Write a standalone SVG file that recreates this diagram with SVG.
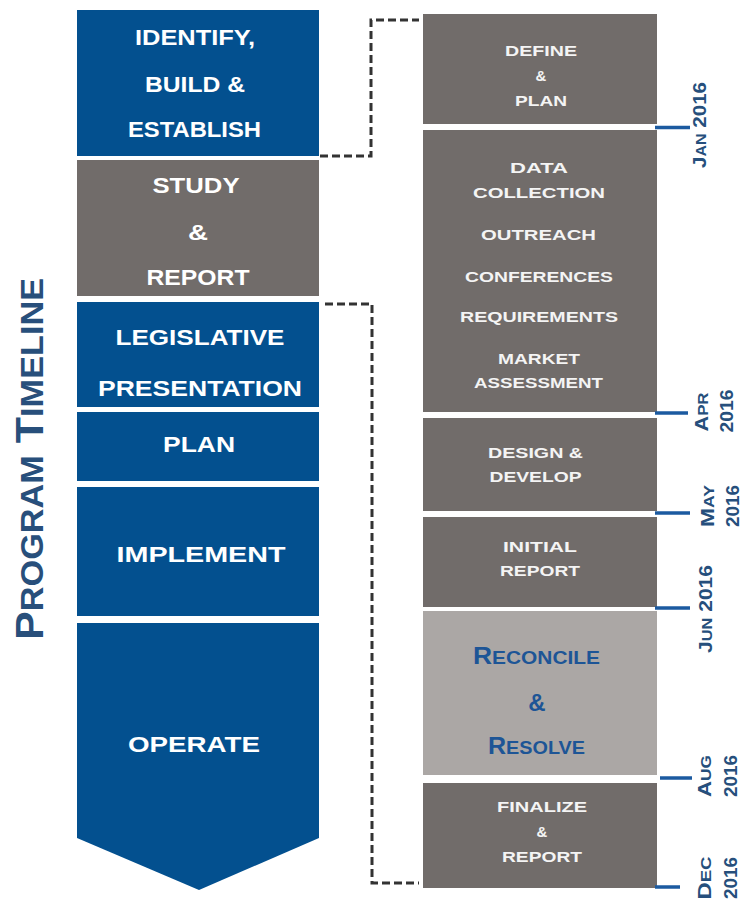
<svg xmlns="http://www.w3.org/2000/svg" width="753" height="903" viewBox="0 0 753 903">
<style>
.blue{fill:#03508f}
.gray{fill:#716c6a}
.lgray{fill:#aba7a5}
.lt{font-family:"Liberation Sans",Arial,sans-serif;font-weight:bold;font-size:22px;fill:#ffffff;text-anchor:middle}
.rt{font-family:"Liberation Sans",Arial,sans-serif;font-weight:bold;font-size:15px;fill:#f4f4f4;text-anchor:middle}
.rc{font-family:"Liberation Sans",Arial,sans-serif;font-weight:bold;font-size:19px;fill:#1d5596;text-anchor:middle}
.dt{font-family:"Liberation Sans",Arial,sans-serif;font-weight:bold;font-size:18px;fill:#264f7c;text-anchor:middle}
.title{font-family:"Liberation Sans",Arial,sans-serif;font-weight:bold;font-size:39px;fill:#284f7b;text-anchor:middle}
.tick{stroke:#1b5aa0;stroke-width:3.5}
.dash{fill:none;stroke:#333333;stroke-width:3;stroke-dasharray:8 4}
</style>
<rect width="753" height="903" fill="#ffffff"/>

<g id="title">
<text class="title" transform="translate(43,459) rotate(-90)" textLength="362" lengthAdjust="spacingAndGlyphs"><tspan>P</tspan><tspan font-size="31">ROGRAM</tspan> <tspan>T</tspan><tspan font-size="31">IMELINE</tspan></text>
</g>

<g id="connectors">
<path class="dash" d="M320,156 H371 V20 H419"/>
<path class="dash" d="M325,304 H372 V883 H419"/>
</g>

<g id="identify">
<rect class="blue" x="77" y="10" width="242" height="146"/>
<text class="lt" x="195" y="45" textLength="120" lengthAdjust="spacingAndGlyphs">IDENTIFY,</text>
<text class="lt" x="195" y="92" textLength="100" lengthAdjust="spacingAndGlyphs">BUILD &amp;</text>
<text class="lt" x="194.5" y="137" textLength="133" lengthAdjust="spacingAndGlyphs">ESTABLISH</text>
</g>

<g id="study">
<rect class="gray" x="77" y="160" width="242" height="136"/>
<text class="lt" x="196" y="193" textLength="87" lengthAdjust="spacingAndGlyphs">STUDY</text>
<text class="lt" x="198" y="240" textLength="20" lengthAdjust="spacingAndGlyphs">&amp;</text>
<text class="lt" x="198" y="285" textLength="103" lengthAdjust="spacingAndGlyphs">REPORT</text>
</g>

<g id="legislative">
<rect class="blue" x="77" y="302" width="242" height="105"/>
<text class="lt" x="200" y="345" textLength="169" lengthAdjust="spacingAndGlyphs">LEGISLATIVE</text>
<text class="lt" x="200" y="396" textLength="204" lengthAdjust="spacingAndGlyphs">PRESENTATION</text>
</g>

<g id="plan">
<rect class="blue" x="77" y="412" width="242" height="69"/>
<text class="lt" x="199" y="452" textLength="72" lengthAdjust="spacingAndGlyphs">PLAN</text>
</g>

<g id="implement">
<rect class="blue" x="77" y="487" width="242" height="129"/>
<text class="lt" x="201" y="562" textLength="169" lengthAdjust="spacingAndGlyphs">IMPLEMENT</text>
</g>

<g id="operate">
<polygon class="blue" points="77,623 319,623 319,838 199,890 77,838"/>
<text class="lt" x="194" y="752" textLength="132" lengthAdjust="spacingAndGlyphs">OPERATE</text>
</g>

<g id="define">
<rect class="gray" x="423" y="14" width="234" height="110"/>
<text class="rt" x="541" y="56" textLength="72" lengthAdjust="spacingAndGlyphs">DEFINE</text>
<text class="rt" x="541" y="81" style="font-size:15px">&amp;</text>
<text class="rt" x="541" y="106" textLength="52" lengthAdjust="spacingAndGlyphs">PLAN</text>
</g>

<g id="data">
<rect class="gray" x="423" y="130" width="234" height="282"/>
<text class="rt" x="539" y="173" textLength="58" lengthAdjust="spacingAndGlyphs">DATA</text>
<text class="rt" x="539" y="198" textLength="132" lengthAdjust="spacingAndGlyphs">COLLECTION</text>
<text class="rt" x="538.5" y="240" textLength="115" lengthAdjust="spacingAndGlyphs">OUTREACH</text>
<text class="rt" x="539" y="282" textLength="148" lengthAdjust="spacingAndGlyphs">CONFERENCES</text>
<text class="rt" x="539" y="322" textLength="158" lengthAdjust="spacingAndGlyphs">REQUIREMENTS</text>
<text class="rt" x="539" y="364" textLength="82" lengthAdjust="spacingAndGlyphs">MARKET</text>
<text class="rt" x="538.5" y="388" textLength="129" lengthAdjust="spacingAndGlyphs">ASSESSMENT</text>
</g>

<g id="design">
<rect class="gray" x="423" y="418" width="234" height="93"/>
<text class="rt" x="535.5" y="458" textLength="95" lengthAdjust="spacingAndGlyphs">DESIGN &amp;</text>
<text class="rt" x="535.5" y="482" textLength="92" lengthAdjust="spacingAndGlyphs">DEVELOP</text>
</g>

<g id="initial">
<rect class="gray" x="423" y="517" width="234" height="90"/>
<text class="rt" x="540" y="552" textLength="74" lengthAdjust="spacingAndGlyphs">INITIAL</text>
<text class="rt" x="540" y="576" textLength="80" lengthAdjust="spacingAndGlyphs">REPORT</text>
</g>

<g id="reconcile">
<rect class="lgray" x="423" y="611" width="234" height="164"/>
<text class="rc" x="536.5" y="664" textLength="127" lengthAdjust="spacingAndGlyphs"><tspan font-size="24">R</tspan>ECONCILE</text>
<text class="rc" x="537" y="711" style="font-size:24px">&amp;</text>
<text class="rc" x="536.5" y="754" textLength="97" lengthAdjust="spacingAndGlyphs"><tspan font-size="24">R</tspan>ESOLVE</text>
</g>

<g id="finalize">
<rect class="gray" x="423" y="783" width="234" height="105"/>
<text class="rt" x="542" y="812" textLength="90" lengthAdjust="spacingAndGlyphs">FINALIZE</text>
<text class="rt" x="542" y="837" style="font-size:15px">&amp;</text>
<text class="rt" x="542" y="862" textLength="80" lengthAdjust="spacingAndGlyphs">REPORT</text>
</g>

<g id="ticks">
<line class="tick" x1="655" y1="127.5" x2="690" y2="127.5"/>
<line class="tick" x1="655" y1="413" x2="688" y2="413"/>
<line class="tick" x1="655" y1="513" x2="690" y2="513"/>
<line class="tick" x1="655" y1="608" x2="690" y2="608"/>
<line class="tick" x1="660" y1="778" x2="692" y2="778"/>
<line class="tick" x1="655" y1="887" x2="680" y2="887"/>
</g>

<g id="dates">
<text class="dt" transform="translate(706,125) rotate(-90)" textLength="86" lengthAdjust="spacingAndGlyphs">J<tspan font-size="14">AN</tspan> 2016</text>
<text class="dt" transform="translate(708,412) rotate(-90)" textLength="39" lengthAdjust="spacingAndGlyphs">A<tspan font-size="14">PR</tspan></text>
<text class="dt" transform="translate(733,411) rotate(-90)" textLength="43" lengthAdjust="spacingAndGlyphs">2016</text>
<text class="dt" transform="translate(714,506) rotate(-90)" textLength="42" lengthAdjust="spacingAndGlyphs">M<tspan font-size="14">AY</tspan></text>
<text class="dt" transform="translate(739,506) rotate(-90)" textLength="42" lengthAdjust="spacingAndGlyphs">2016</text>
<text class="dt" transform="translate(712,609) rotate(-90)" textLength="88" lengthAdjust="spacingAndGlyphs">J<tspan font-size="14">UN</tspan> 2016</text>
<text class="dt" transform="translate(711,776) rotate(-90)" textLength="42" lengthAdjust="spacingAndGlyphs">A<tspan font-size="14">UG</tspan></text>
<text class="dt" transform="translate(737,776) rotate(-90)" textLength="42" lengthAdjust="spacingAndGlyphs">2016</text>
<text class="dt" transform="translate(711,878) rotate(-90)" textLength="43" lengthAdjust="spacingAndGlyphs">D<tspan font-size="14">EC</tspan></text>
<text class="dt" transform="translate(737,878) rotate(-90)" textLength="42" lengthAdjust="spacingAndGlyphs">2016</text>
</g>
</svg>
